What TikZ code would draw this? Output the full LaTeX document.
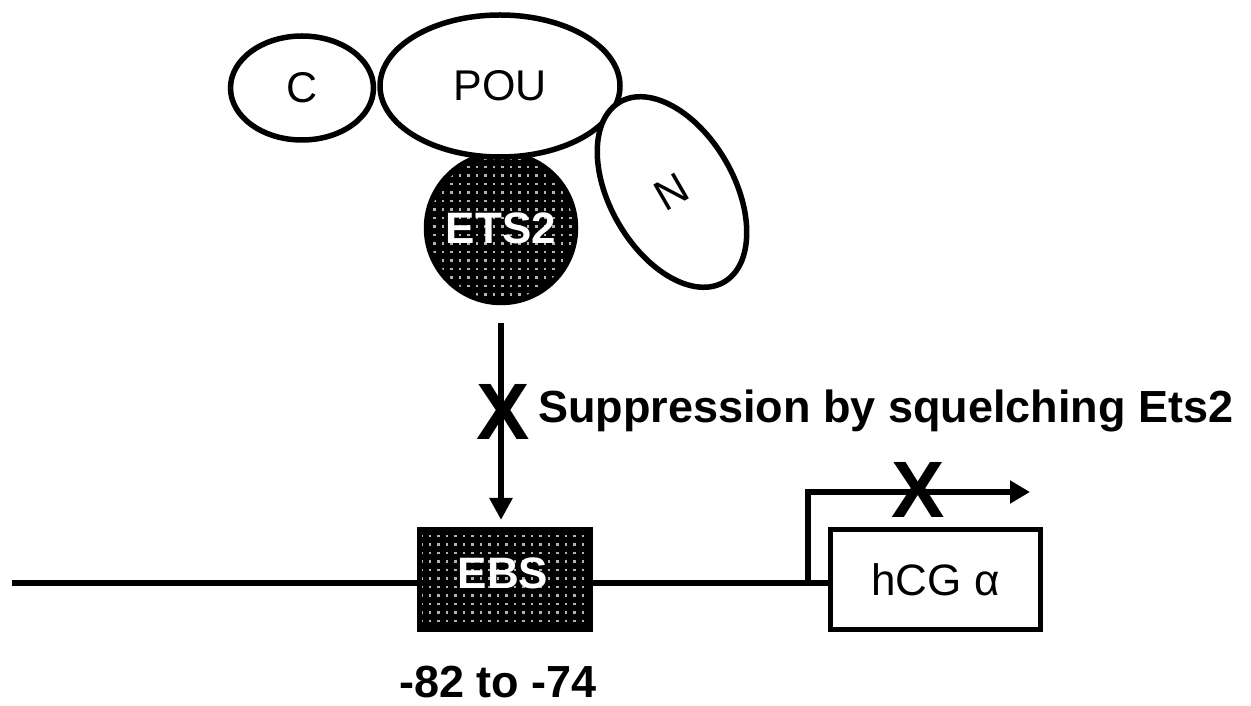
\documentclass[tikz,border=0pt]{standalone}
\usepackage{fontspec}
\setmainfont{Liberation Sans}
\usetikzlibrary{arrows.meta,shapes.geometric,calc}
\begin{document}
\begin{tikzpicture}[x=1pt,y=1pt,
  outl/.style={draw=black,line width=5.5pt},
  wob/.style={outl,ellipse,fill=white,inner sep=0pt,font=\fontsize{43}{43}\selectfont},
  dotfill/.style={fill=black,path picture={
      \foreach \i in {-12,...,12}{\foreach \j in {-12,...,12}{
        \fill[gray!60] ([shift={(\i*8.5,\j*8.5)}]path picture bounding box.center) rectangle ++(2.5,2.5);}}}},
  conn/.style={line width=6pt},
  xmark/.style={font=\fontsize{80}{80}\bfseries\selectfont,inner sep=0pt},
  lbl/.style={font=\fontsize{45}{45}\bfseries\selectfont,inner sep=0pt}]
\useasboundingbox (0,0) rectangle (1251,705);
% protein complex
\node[outl,circle,dotfill,minimum size=149pt,inner sep=0pt,text=white,
      font=\fontsize{44}{44}\bfseries\selectfont] (ets) at (501,477) {ETS2};
\node[wob,minimum width=143pt,minimum height=104pt] (c) at (302,617) {C};
\node[wob,minimum width=240pt,minimum height=142pt] (pou) at (500,619) {POU};
\node[wob,minimum width=124pt,minimum height=208pt,rotate=30] (n) at (672,513) {N};
% DNA elements
\node[dotfill,draw=black,line width=5pt,minimum width=171pt,minimum height=100pt,inner sep=0pt] (ebs) at (505,125.5) {};
\node[lbl,text=white,font=\fontsize{44}{44}\bfseries\selectfont] (ebst) at ($(ebs.center)+(-2,6)$) {EBS};
\node[outl,minimum width=210pt,minimum height=100pt,inner sep=0pt,
      font=\fontsize{44}{44}\selectfont] (hcg) at (935.5,125.5) {hCG α\hspace{14pt}};
\coordinate (L) at (12,122);
\draw[conn] (L) -- (L -| ebs.west);
\draw[conn] (L -| ebs.east) -- (L -| hcg.west);
\coordinate (P) at (808,122);
\coordinate (T) at (1030,213);
\draw[conn,line join=miter,-{Triangle[length=20pt,width=22pt]}] (P) |- (T);
% arrow from ETS2 to EBS
\draw[conn,-{Triangle[length=22pt,width=22pt]},shorten <=18pt,shorten >=7pt] (ets.south) -- (ets.south |- ebs.north);
% marks and labels
\node[xmark] (x1) at (503,293) {X};
\node[xmark] (x2) at (918,215) {X};
\node[lbl,anchor=base west] (sup) at (538,282) {Suppression by squelching Ets2};
\node[lbl,anchor=base] (pos) at (498,8) {-82 to -74};
\end{tikzpicture}
\end{document}
